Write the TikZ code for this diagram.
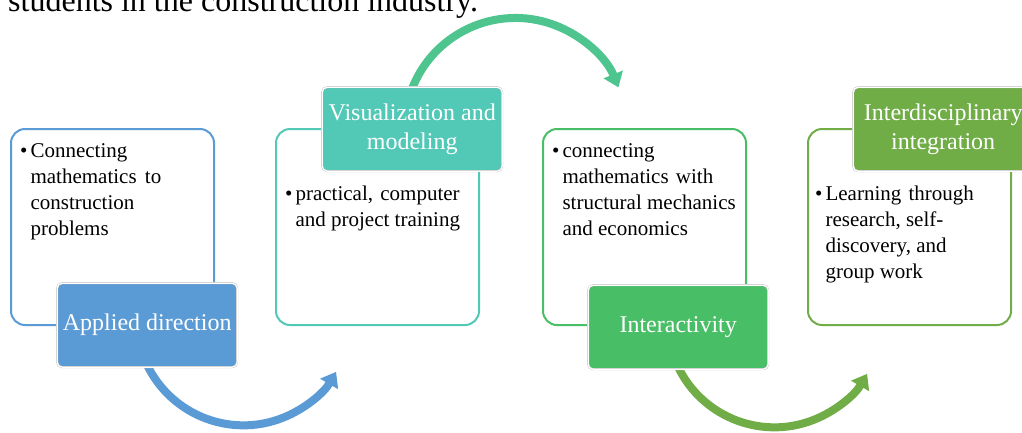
\documentclass[tikz,border=0pt]{standalone}
\usepackage{fontspec}
\setmainfont{Liberation Serif}
\usetikzlibrary{arrows.meta,backgrounds}

\definecolor{applied}{HTML}{5B9BD5}
\definecolor{visual}{HTML}{52C8B6}
\definecolor{visarrow}{HTML}{4EC58F}
\definecolor{interact}{HTML}{48BE66}
\definecolor{interdis}{HTML}{70AD47}

\tikzstyle{info box}=[
    line width = 2pt,
    fill = white,
    rounded corners = 14pt,
    minimum width = 203pt,
    minimum height = 196pt,
    anchor = north west
]
\tikzstyle{head box}=[
    draw = black!25,
    double = white,
    double distance = 1.2pt,
    rounded corners = 5pt,
    text = white,
    minimum width = 180pt,
    minimum height = 84pt,
    align = center,
    font = \fontsize{24}{29}\selectfont,
    anchor = north west
]
\tikzstyle{cycle arrow}=[
    line width = 8pt,
    -{Triangle[width=20pt, length=14pt]}
]

\newcommand{\bulletlines}[1]{\textbullet\hspace{3pt}\begin{tabular}[t]{@{}l@{}}#1\end{tabular}}

\begin{document}
\begin{tikzpicture}[x=1pt, y=-1pt, item/.style = {anchor=north west, inner sep=0pt, font=\fontsize{21}{26}\selectfont}]
    \useasboundingbox (0,0) rectangle (1022,432);
    \clip (0,0) rectangle (1022,432);

    \node[anchor=base west, inner sep=0pt, font=\fontsize{32}{36}\selectfont] (caption) at (8,11) {students in the construction industry.};

    % white boxes
    \node[info box, draw=applied] (b1) at (10,128) {};
    \node[info box, draw=visual] (b2) at (275,128) {};
    \node[info box, draw=interact] (b3) at (542,128) {};
    \node[info box, draw=interdis] (b4) at (807,128) {};

    \node[item] (i1) at ([shift={(10,11)}]b1.north west) {\bulletlines{Connecting\\mathematics \hspace{3pt}to\\construction\\problems}};
    \node[item] (i2) at ([shift={(10,54)}]b2.north west) {\bulletlines{practical, \hspace{2pt}computer\\and project training}};
    \node[item] (i3) at ([shift={(10,11)}]b3.north west) {\bulletlines{connecting\\mathematics \hspace{2pt}with\\structural mechanics\\and economics}};
    \node[item] (i4) at ([shift={(8,54)}]b4.north west) {\bulletlines{Learning \hspace{2pt}through\\research, self-\\discovery, and\\group work}};

    % headings
    \node[head box, fill=applied] (t1) at (57,283) {Applied direction};
    \node[head box, fill=visual] (t2) at (322,87) {Visualization and\\modeling};
    \node[head box, fill=interact] (t3) at (588,285) {Interactivity};
    \node[head box, fill=interdis] (t4) at (853,87) {Interdisciplinary\\integration};

    % arrows behind
    \begin{scope}[on background layer]
        \draw[cycle arrow, applied] ([shift={(-3,-9)}]t1.south) arc[start angle=158, end angle=30, radius=107];
        \draw[cycle arrow, visarrow] ([shift={(-1,4)}]t2.north) arc[start angle=200, end angle=338, radius=111];
        \draw[cycle arrow, interdis] ([shift={(-3,-9)}]t3.south) arc[start angle=158, end angle=30, radius=107];
    \end{scope}
\end{tikzpicture}
\end{document}
